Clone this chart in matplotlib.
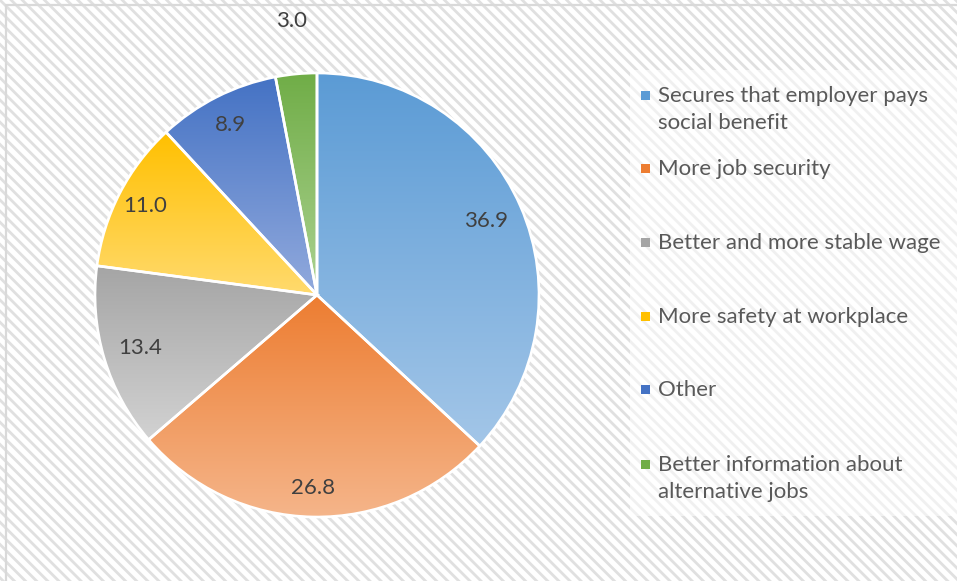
import numpy as np
import matplotlib
matplotlib.use('Agg')
import matplotlib.pyplot as plt
from matplotlib.patches import Rectangle
from matplotlib.lines import Line2D
from matplotlib.colors import to_rgb

plt.rcParams['font.family'] = ['Lato', 'DejaVu Sans']
plt.rcParams['hatch.linewidth'] = 2.0

categories = ['Secures that employer pays\nsocial benefit',
              'More job security',
              'Better and more stable wage',
              'More safety at workplace',
              'Other',
              'Better information about\nalternative jobs']
values = [36.9, 26.8, 13.4, 11.0, 8.9, 3.0]
value_labels = ['36.9', '26.8', '13.4', '11.0', '8.9', '3.0']

# gradient colours, top -> bottom of each slice
top_colors = ['#5B9BD5', '#ED7D31', '#A5A5A5', '#FFC000', '#4472C4', '#70AD47']
bottom_colors = ['#A3C6E8', '#F5B58A', '#D2D2D2', '#FFDA6E', '#92AADD', '#ACD291']
label_dist = [0.83, 0.87, 0.83, 0.87, 0.86, 1.24]

W, H = 957, 581
fig = plt.figure(figsize=(W / 100, H / 100), dpi=100)

# hatched background
bg = Rectangle((0, 0), 1, 1, transform=fig.transFigure, facecolor='white',
               edgecolor='#E0E0E0', linewidth=0, hatch='\\\\\\', zorder=-2)
fig.add_artist(bg)
# lighter legend area
leg_bg = Rectangle((630 / W, 1 - 516 / H), (W - 630) / W, (516 - 70) / H,
                   transform=fig.transFigure, facecolor='white', alpha=0.55,
                   linewidth=0, zorder=-1)
fig.add_artist(leg_bg)
# frame (left and top edges)
fig.add_artist(Line2D([6 / W, 6 / W, 1.0], [0.0, 1 - 5 / H, 1 - 5 / H],
                      transform=fig.transFigure, color='#D9D9D9', lw=1.6))

cx, cy, r = 317, 295, 222
half = 250
ax = fig.add_axes([(cx - half) / W, (H - cy - half) / H, 2 * half / W, 2 * half / H])
ax.set_facecolor('none')

wedges, _ = ax.pie(values, startangle=90, counterclock=False, radius=1,
                   wedgeprops=dict(facecolor='none', edgecolor='white', linewidth=1.9))

for i, w in enumerate(wedges):
    w.set_zorder(3)
    ext = w.get_path().get_extents()
    c0 = np.array(to_rgb(top_colors[i]))
    c1 = np.array(to_rgb(bottom_colors[i]))
    t = np.linspace(0, 1, 256)[:, None]
    grad = (c0 * (1 - t) + c1 * t)[:, None, :]
    im = ax.imshow(grad, extent=(ext.x0, ext.x1, ext.y0, ext.y1), origin='upper',
                   aspect='auto', interpolation='bilinear', zorder=2)
    im.set_clip_path(w)
    ang = np.deg2rad((w.theta1 + w.theta2) / 2)
    d = label_dist[i]
    ax.text(d * np.cos(ang), d * np.sin(ang), value_labels[i], ha='center', va='center',
            fontsize=16, color='#404040', zorder=4)

lim = half / r
ax.set_xlim(-lim, lim)
ax.set_ylim(-lim, lim)
ax.set_aspect('equal')
ax.axis('off')

# legend
leg_y = [95, 168, 242, 316, 389, 464]
for i, lab in enumerate(categories):
    y = leg_y[i]
    fig.add_artist(Rectangle((641 / W, 1 - (y + 4.5) / H), 9 / W, 9 / H,
                             transform=fig.transFigure, facecolor=top_colors[i],
                             edgecolor='none'))
    fig.text(658 / W, 1 - (y - 9) / H, lab, ha='left', va='top', fontsize=16,
             color='#595959', linespacing=1.42)

fig.savefig('out.png', dpi=100)
